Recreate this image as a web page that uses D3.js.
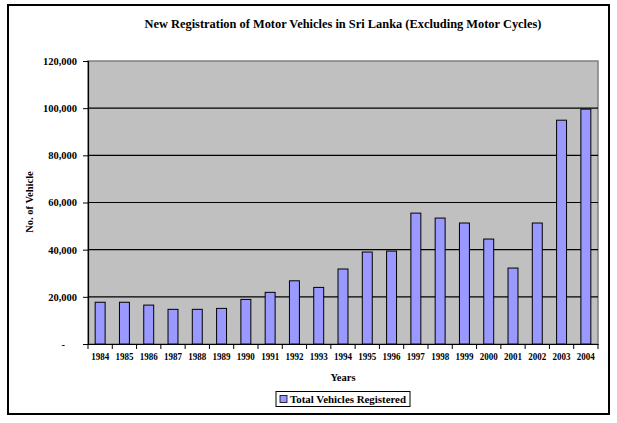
<!DOCTYPE html>
<html><head><meta charset="utf-8">
<script src="https://cdn.jsdelivr.net/npm/d3@7"></script>
<style>body{margin:0;background:#fff}svg text{font-family:"Times New Roman","Liberation Serif",Tinos,"DejaVu Serif",serif !important;font-weight:bold;fill:#000}</style>
</head><body><svg id="c" width="617" height="423"></svg>
<script>
const years = ["1984","1985","1986","1987","1988","1989","1990","1991","1992","1993","1994","1995","1996","1997","1998","1999","2000","2001","2002","2003","2004"];
const totalVehicles = [17700,17700,16500,14700,14700,15100,18900,21900,26800,24000,31800,39000,39400,55500,53400,51300,44500,32200,51300,94900,99600];
const yTicks = [0,20000,40000,60000,80000,100000,120000];
const titleText = "New Registration of Motor Vehicles in Sri Lanka (Excluding Motor Cycles)";
const seriesName = "Total Vehicles Registered";

const svg = d3.select("#c");
svg.append("rect").attr("x",8).attr("y",5).attr("width",601).attr("height",409).attr("fill","#fff").attr("stroke","#000").attr("stroke-width",2);

const L=88,R=598,T=61,B=344;
const x = d3.scaleBand().domain(years).range([L,R]).paddingInner(0.59).paddingOuter(0.295);
const xb = d3.scaleBand().domain(years).range([L,R]);
const y = d3.scaleLinear().domain([0,120000]).range([B,T]);

svg.append("rect").attr("x",L).attr("y",T).attr("width",R-L).attr("height",B-T).attr("fill","#C0C0C0").attr("stroke","#808080").attr("stroke-width",1.5);

svg.append("g").selectAll("line").data(yTicks.filter(d=>d>0 && d<120000)).join("line")
  .attr("x1",L).attr("x2",R).attr("y1",d=>y(d)).attr("y2",d=>y(d)).attr("stroke","#000").attr("stroke-width",1.2);

svg.append("g").selectAll("rect").data(years).join("rect")
  .attr("x",(d)=>x(d)).attr("width",x.bandwidth())
  .attr("y",(d,i)=>y(totalVehicles[i])).attr("height",(d,i)=>B-y(totalVehicles[i]))
  .attr("fill","#9999FF").attr("stroke","#000").attr("stroke-width",1);

// y axis
const yAxis = d3.axisLeft(y).tickValues(yTicks).tickSize(5).tickPadding(6)
  .tickFormat(d=>d===0?"-":d3.format(",")(d));
const ga = svg.append("g").attr("transform",`translate(${L},0)`).call(yAxis).attr("font-family",null);
ga.select(".domain").attr("stroke","#000").attr("stroke-width",1.2);
ga.selectAll(".tick line").attr("stroke","#000");
ga.selectAll("text").attr("font-size",10.5).attr("fill","#000");
ga.selectAll(".tick").filter(d=>d===0).select("text").attr("dx",-12);

// x axis
const xAxis = d3.axisBottom(xb).tickSize(0).tickPadding(9);
const gx = svg.append("g").attr("transform",`translate(0,${B})`).call(xAxis).attr("font-family",null);
gx.select(".domain").attr("stroke","#000").attr("stroke-width",1.2);
gx.selectAll("text").attr("font-size",10).attr("fill","#000")
  .attr("textLength",18).attr("lengthAdjust","spacingAndGlyphs");
svg.append("g").selectAll("line").data(years.concat(["end"])).join("line")
  .attr("x1",(d,i)=>L+i*xb.step()).attr("x2",(d,i)=>L+i*xb.step())
  .attr("y1",B).attr("y2",B+5).attr("stroke","#000");

svg.append("text").attr("x",(L+R)/2).attr("y",28).attr("text-anchor","middle").attr("font-size",12.5)
  .attr("textLength",397).attr("lengthAdjust","spacingAndGlyphs").text(titleText);
svg.append("text").attr("x",343).attr("y",381).attr("text-anchor","middle").attr("font-size",10.5).text("Years");
svg.append("text").attr("transform","translate(33,202) rotate(-90)").attr("text-anchor","middle").attr("font-size",10.5).text("No. of Vehicle");

// legend
svg.append("rect").attr("x",276).attr("y",391.5).attr("width",134).attr("height",15).attr("fill","#fff").attr("stroke","#000").attr("stroke-width",1);
svg.append("rect").attr("x",280).attr("y",395.5).attr("width",7).attr("height",7).attr("fill","#9999FF").attr("stroke","#000").attr("stroke-width",0.8);
svg.append("text").attr("x",290).attr("y",403).attr("font-size",10.5).attr("textLength",116).attr("lengthAdjust","spacingAndGlyphs").text(seriesName);
</script></body></html>
